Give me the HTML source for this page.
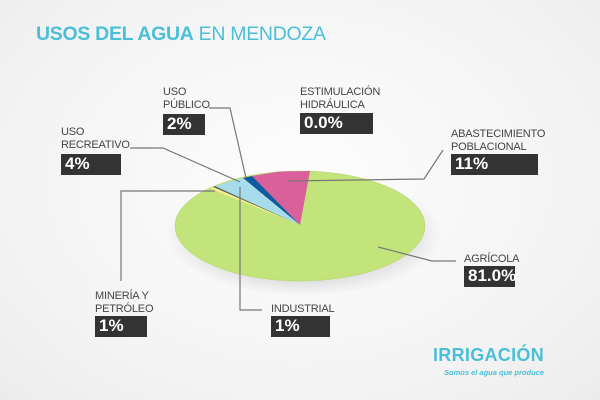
<!DOCTYPE html><html><head><meta charset="utf-8"><style>
body{margin:0;width:600px;height:400px;overflow:hidden;background:radial-gradient(ellipse at 50% 45%,#fdfdfd 0%,#f3f3f3 70%,#ececec 100%);font-family:"Liberation Sans",sans-serif;position:relative}
.t{position:absolute;font-size:11px;color:#444;line-height:13px;letter-spacing:-0.2px}
.b{position:absolute;background:#333;color:#fff;font-weight:bold;font-size:17px;line-height:20px;padding-left:4px;box-sizing:border-box;height:21px}
</style></head><body>
<div style="position:absolute;left:36px;top:23px;font-size:19.5px;color:#4bbfd9;letter-spacing:-0.3px"><b>USOS DEL AGUA</b> EN MENDOZA</div>
<svg width="600" height="400" style="position:absolute;left:0;top:0">
<defs><radialGradient id="sh" cx="50%" cy="50%" r="50%"><stop offset="70%" stop-color="#000" stop-opacity="0.12"/><stop offset="100%" stop-color="#000" stop-opacity="0"/></radialGradient></defs>
<ellipse cx="304" cy="234" rx="138" ry="62" fill="url(#sh)"/>
<ellipse cx="300" cy="226" rx="125" ry="55" fill="#c3e47a" stroke="#b5d56c" stroke-width="0.5"/>
<polygon points="300,225 310,171 280,171.5 252,176" fill="#d9609a"/>
<polygon points="300,225 252,176 243,178" fill="#0f5aa0"/>
<polygon points="300,225 243,178 215,186" fill="#a7dcec"/>
<polygon points="300,225 215,186 213,187" fill="#666"/>
<polygon points="300,225 213,187 211,189" fill="#f4ef8a"/>
<g stroke="#777" stroke-width="1.2" fill="none">
<polyline points="209,108 230,108 246,178"/>
<polyline points="130,148 163,148 240,182"/>
<polyline points="121,281 121,191 215,191"/>
<polyline points="240,187 240,310 262,310"/>
<polyline points="443,150 424,179 288,181"/>
<polyline points="378,247 432,261 456,261"/>
</g></svg>
<div class="t" style="left:163px;top:86px">USO<br>PÚBLICO</div><div class="b" style="left:163px;top:114px;width:42px">2%</div>
<div class="t" style="left:61px;top:126px">USO<br>RECREATIVO</div><div class="b" style="left:61px;top:154px;width:60px">4%</div>
<div class="t" style="left:300px;top:86px">ESTIMULACIÓN<br>HIDRÁULICA</div><div class="b" style="left:300px;top:113px;width:73px">0.0%</div>
<div class="t" style="left:451px;top:128px">ABASTECIMIENTO<br>POBLACIONAL</div><div class="b" style="left:451px;top:154px;width:87px">11%</div>
<div class="t" style="left:464px;top:253px">AGRÍCOLA</div><div class="b" style="left:464px;top:266px;width:51px">81.0%</div>
<div class="t" style="left:95px;top:290px">MINERÍA Y<br>PETRÓLEO</div><div class="b" style="left:95px;top:316px;width:52px">1%</div>
<div class="t" style="left:271px;top:303px">INDUSTRIAL</div><div class="b" style="left:271px;top:316px;width:59px">1%</div>
<div style="position:absolute;left:433px;top:345px;font-size:18px;font-weight:bold;color:#4bbfd9;letter-spacing:0.3px">IRRIGACIÓN</div>
<div style="position:absolute;left:444px;top:368px;font-size:7.5px;font-style:italic;font-weight:bold;color:#4bbfd9">Somos el agua que produce</div>
</body></html>
